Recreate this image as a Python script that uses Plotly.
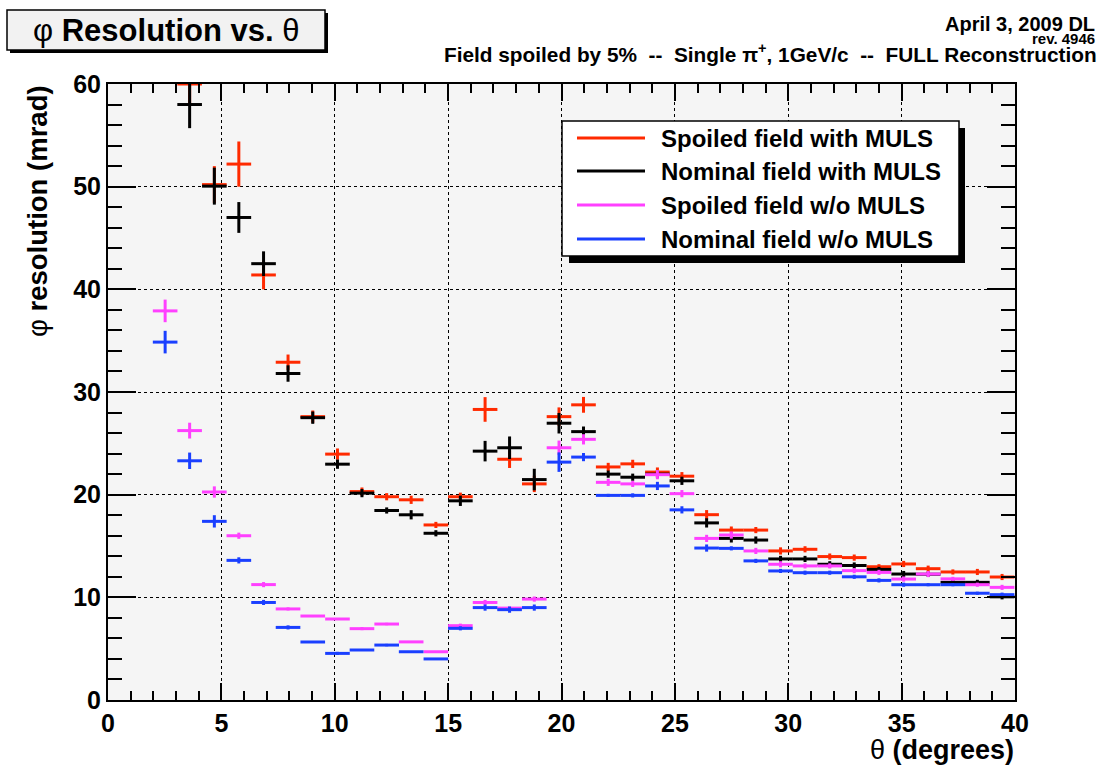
import plotly.graph_objects as go

# ---------------- data ----------------
theta = [2.52, 3.60, 4.69, 5.77, 6.86, 7.94, 9.03, 10.12, 11.20, 12.29, 13.37, 14.46,
         15.54, 16.63, 17.71, 18.80, 19.89, 20.97, 22.06, 23.14, 24.23, 25.31, 26.40,
         27.49, 28.57, 29.66, 30.74, 31.83, 32.91, 34.00, 35.09, 36.17, 37.26, 38.34, 39.43]
bin_half_width = [0.543] * len(theta)

spoiled_muls = [None, 60.0, 50.2, 52.2, 41.4, 32.9, 27.6, 23.95, 20.3, 19.8, 19.5, 17.05,
                19.8, 28.3, 23.45, 21.05, 27.6, 28.75, 22.7, 23.0, 22.2, 21.8, 18.05,
                16.55, 16.55, 14.52, 14.68, 13.97, 13.87, 12.98, 13.25, 12.79, 12.47, 12.47, 11.98]
spoiled_muls_err = [None, 2.0, 1.8, 2.2, 1.4, 0.75, 0.6, 0.55, 0.4, 0.35, 0.4, 0.3,
                    0.4, 1.2, 0.85, 0.8, 0.9, 0.77, 0.4, 0.4, 0.45, 0.4, 0.45,
                    0.35, 0.3, 0.35, 0.3, 0.3, 0.3, 0.25, 0.3, 0.3, 0.25, 0.3, 0.3]

nominal_muls = [None, 58.0, 50.05, 47.0, 42.5, 31.8, 27.5, 22.97, 20.15, 18.46, 18.04, 16.24,
                19.4, 24.24, 24.57, 21.47, 26.96, 26.14, 22.0, 21.7, 22.0, 21.35, 17.25,
                15.74, 15.58, 13.74, 13.74, 13.22, 13.1, 12.72, 12.27, 12.25, 11.46, 11.46, 10.05]
nominal_muls_err = [None, 2.3, 1.8, 1.5, 1.2, 0.8, 0.6, 0.45, 0.4, 0.3, 0.45, 0.3,
                    0.5, 1.0, 1.1, 1.05, 1.0, 0.5, 0.35, 0.35, 0.4, 0.4, 0.45,
                    0.4, 0.35, 0.3, 0.3, 0.3, 0.3, 0.25, 0.3, 0.25, 0.25, 0.25, 0.25]

spoiled_nomuls = [37.9, 26.24, 20.26, 16.0, 11.24, 8.87, 8.18, 7.89, 6.95, 7.4, 5.66, 4.7,
                  7.24, 9.5, 8.95, 9.83, 24.57, 25.39, 21.2, 21.05, 21.95, 20.1, 15.74,
                  16.07, 14.52, 13.22, 13.06, 13.06, 12.6, 12.43, 11.78, 12.27, 11.8, 11.23, 10.97]
spoiled_nomuls_err = [1.1, 0.77, 0.55, 0.3, 0.25, 0.15, 0.1, 0.05, 0.15, 0.12, 0.05, 0.05,
                      0.2, 0.25, 0.15, 0.25, 0.7, 0.5, 0.35, 0.3, 0.45, 0.35, 0.35,
                      0.35, 0.3, 0.3, 0.25, 0.25, 0.25, 0.25, 0.25, 0.3, 0.2, 0.2, 0.25]

nominal_nomuls = [34.86, 23.3, 17.4, 13.6, 9.5, 7.07, 5.65, 4.54, 4.87, 5.35, 4.7, 4.0,
                  6.98, 9.0, 8.8, 9.0, 23.17, 23.66, 19.93, 19.93, 20.85, 18.52, 14.8,
                  14.77, 13.55, 12.57, 12.4, 12.4, 12.0, 11.65, 11.23, 11.23, 11.23, 10.4, 10.26]
nominal_nomuls_err = [1.1, 0.8, 0.6, 0.3, 0.25, 0.2, 0.05, 0.15, 0.05, 0.12, 0.05, 0.05,
                      0.2, 0.3, 0.3, 0.3, 0.95, 0.4, 0.15, 0.2, 0.4, 0.35, 0.35,
                      0.2, 0.2, 0.2, 0.2, 0.2, 0.2, 0.2, 0.2, 0.15, 0.15, 0.15, 0.2]

series_names = ["Spoiled field with MULS", "Nominal field with MULS",
                "Spoiled field w/o MULS", "Nominal field w/o MULS"]
x_ticks = [0, 5, 10, 15, 20, 25, 30, 35, 40]
y_ticks = [0, 10, 20, 30, 40, 50, 60]

# ---------------- styling ----------------
W, H = 1107, 765
L, R, T, B = 108, 92, 84, 65
FONT = "Liberation Sans, Arial, Helvetica, sans-serif"
colors = ["#ff2a00", "#000000", "#ff40ff", "#1a3fff"]
series = [(spoiled_muls, spoiled_muls_err), (nominal_muls, nominal_muls_err),
          (spoiled_nomuls, spoiled_nomuls_err), (nominal_nomuls, nominal_nomuls_err)]
NB = "\u00a0"


def px(x):
    return (x - L) / (W - L - R)


def py(y):
    return (H - B - y) / (H - T - B)


fig = go.Figure()
for (vals, errs), col, name in zip(series, colors, series_names):
    fig.add_trace(go.Scatter(
        x=theta, y=vals, mode="markers", name=name, showlegend=False,
        marker=dict(size=1, color=col),
        error_x=dict(type="data", array=bin_half_width, symmetric=True,
                     color=col, thickness=3, width=0),
        error_y=dict(type="data", array=errs, symmetric=True,
                     color=col, thickness=3, width=0),
    ))

axis_common = dict(showline=True, linecolor="black", linewidth=2, mirror="allticks",
                   ticks="inside", tickcolor="black", tickwidth=2,
                   showgrid=True, gridcolor="black", gridwidth=1, griddash="dot",
                   zeroline=False,
                   tickfont=dict(family=FONT, size=25, color="black", weight="bold"))

fig.update_xaxes(range=[0, 40], tickvals=x_ticks, ticklen=17,
                 minor=dict(ticks="inside", dtick=1, ticklen=9, tickwidth=1.5,
                            tickcolor="black", showgrid=False),
                 **axis_common)
fig.update_yaxes(range=[0, 60], tickvals=y_ticks, ticklen=28,
                 minor=dict(ticks="inside", dtick=2, ticklen=14, tickwidth=1.5,
                            tickcolor="black", showgrid=False),
                 **axis_common)

shapes = []
annotations = []

# title box with shadow
shapes.append(dict(type="rect", xref="paper", yref="paper", x0=px(10), x1=px(328),
                   y0=py(53), y1=py(13), fillcolor="black", line=dict(width=0), layer="above"))
shapes.append(dict(type="rect", xref="paper", yref="paper", x0=px(7), x1=px(325),
                   y0=py(50), y1=py(10), fillcolor="#f2f2f2",
                   line=dict(color="black", width=1.5), layer="above"))
annotations.append(dict(xref="paper", yref="paper", x=px(166), y=py(30),
                        text="φ <b>Resolution vs.</b> θ", showarrow=False,
                        xanchor="center", yanchor="middle",
                        font=dict(family=FONT, size=31, color="black")))

# top-right notes
annotations.append(dict(xref="paper", yref="paper", x=px(1097), y=py(24),
                        text="<b>April 3, 2009 DL</b>", showarrow=False,
                        xanchor="right", yanchor="middle",
                        font=dict(family=FONT, size=20, color="black")))
annotations.append(dict(xref="paper", yref="paper", x=px(1097), y=py(38),
                        text="rev. 4946", showarrow=False,
                        xanchor="right", yanchor="middle",
                        font=dict(family=FONT, size=15, color="black", weight="bold")))
field_text = ("<b>Field spoiled by 5%" + NB + NB + "--" + NB + NB + "Single π<sup>+</sup>, 1GeV/c"
              + NB + NB + "--" + NB + NB + "FULL Reconstruction</b>")
annotations.append(dict(xref="paper", yref="paper", x=px(1099), y=py(53),
                        text=field_text,
                        showarrow=False, xanchor="right", yanchor="middle",
                        font=dict(family=FONT, size=20.8, color="black")))

# axis titles
annotations.append(dict(xref="paper", yref="paper", x=px(1016), y=py(750),
                        text="θ <b>(degrees)</b>", showarrow=False,
                        xanchor="right", yanchor="middle",
                        font=dict(family=FONT, size=27, color="black")))
annotations.append(dict(xref="paper", yref="paper", x=px(37), y=py(83),
                        text="φ <b>resolution (mrad)</b>", showarrow=False, textangle=-90,
                        xanchor="center", yanchor="top",
                        font=dict(family=FONT, size=27.5, color="black")))

# legend box with shadow
shapes.append(dict(type="rect", xref="paper", yref="paper", x0=px(569), x1=px(965),
                   y0=py(263), y1=py(128), fillcolor="black", line=dict(width=0), layer="above"))
shapes.append(dict(type="rect", xref="paper", yref="paper", x0=px(562), x1=px(959),
                   y0=py(256), y1=py(121), fillcolor="white",
                   line=dict(color="black", width=1.5), layer="above"))
rows = [138, 171, 205, 239]
for name, col, ry in zip(series_names, colors, rows):
    shapes.append(dict(type="line", xref="paper", yref="paper", x0=px(577), x1=px(645),
                       y0=py(ry), y1=py(ry), line=dict(color=col, width=3), layer="above"))
    annotations.append(dict(xref="paper", yref="paper", x=px(659), y=py(ry),
                            text="<b>" + name + "</b>", showarrow=False,
                            xanchor="left", yanchor="middle",
                            font=dict(family=FONT, size=24, color="black")))

fig.update_layout(
    width=W, height=H,
    margin=dict(l=L, r=R, t=T, b=B),
    paper_bgcolor="white", plot_bgcolor="#f5f5f5",
    showlegend=False,
    shapes=shapes, annotations=annotations,
)

fig.write_html("out.html")
